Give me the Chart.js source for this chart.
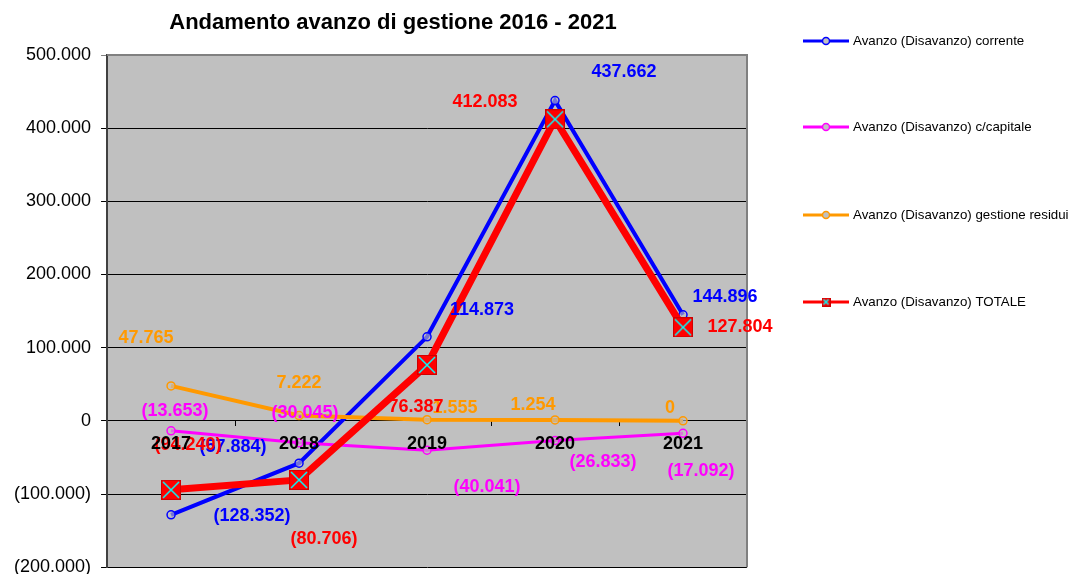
<!DOCTYPE html>
<html>
<head>
<meta charset="utf-8">
<script src="https://cdn.jsdelivr.net/npm/chart.js@4"></script>
<style>
  html, body { margin: 0; padding: 0; background: #fff; overflow: hidden; }
  #wrap { width: 1070px; height: 588px; }
</style>
</head>
<body>
<div id="wrap"><canvas id="chart"></canvas></div>
<script>
// Values (units as shown, "." = thousands)
const years = ["2017", "2018", "2019", "2020", "2021"];
const corrente = [-128352, -57884, 114873, 437662, 144896];
const capitale = [-13653, -30045, -40041, -26833, -17092];
const residui = [47765, 7222, 1555, 1254, 0];
const totale = [-94240, -80706, 76387, 412083, 127804];
const seriesNames = [
  "Avanzo (Disavanzo) corrente",
  "Avanzo (Disavanzo) c/capitale",
  "Avanzo (Disavanzo) gestione residui",
  "Avanzo (Disavanzo) TOTALE"
];
const yMin = -200000, yMax = 500000, yStep = 100000;

const FONT = "Arial, 'Liberation Sans', sans-serif";

// label nudges (pixels) so the value labels sit where Excel put them
const labelShift = [
  [[81, 1], [-66, -16], [55, -27], [69, -29], [42, -18]],
  [[4, -20], [6, -30], [60, 37], [48, 22], [18, 38]],
  [[-25, -48], [0, -33], [28, -12], [-22, -15], [-13, -13]],
  [[17, -45], [25, 59], [-11, 42], [-70, -17], [57, 0]]
];

function fmt(v) {
  const s = Math.abs(Math.round(v)).toString().replace(/\B(?=(\d{3})+(?!\d))/g, ".");
  return v < 0 ? "(" + s + ")" : s;
}

function boxMarker(size) {
  const c = document.createElement("canvas");
  c.width = size; c.height = size;
  const g = c.getContext("2d");
  g.fillStyle = "#ff0000";
  g.fillRect(0, 0, size, size);
  g.strokeStyle = "#d00000";
  g.lineWidth = 1;
  g.strokeRect(0.5, 0.5, size - 1, size - 1);
  g.strokeStyle = "#00ffff";
  g.lineWidth = 1.5;
  g.beginPath();
  g.moveTo(2, 2); g.lineTo(size - 2, size - 2);
  g.moveTo(size - 2, 2); g.lineTo(2, size - 2);
  g.stroke();
  return c;
}

const bigBox = boxMarker(20);
const smallBox = boxMarker(9);

const decor = {
  id: "decor",
  beforeDraw(chart) {
    const { ctx, chartArea: a } = chart;
    ctx.save();
    ctx.fillStyle = "#c0c0c0";
    ctx.fillRect(a.left, a.top, a.right - a.left, a.bottom - a.top);
    ctx.restore();
  },
  beforeDatasetsDraw(chart) {
    const { ctx, chartArea: a } = chart;
    ctx.save();
    ctx.strokeStyle = "#808080";
    ctx.lineWidth = 2;
    ctx.beginPath();
    ctx.moveTo(a.left, a.top);
    ctx.lineTo(a.right, a.top);
    ctx.lineTo(a.right, a.bottom);
    ctx.stroke();
    ctx.restore();
  },
  afterDatasetsDraw(chart) {
    const { ctx, scales } = chart;
    ctx.save();
    ctx.font = "bold 18px " + FONT;
    ctx.textAlign = "center";
    ctx.textBaseline = "middle";
    chart.data.datasets.forEach((ds, i) => {
      ds.data.forEach((v, j) => {
        const x = scales.x.getPixelForValue(j);
        const y = scales.y.getPixelForValue(v);
        const d = labelShift[i][j];
        ctx.fillStyle = ds.borderColor;
        ctx.fillText(fmt(v), x + d[0], y + d[1]);
      });
    });
    ctx.restore();
  },
  afterDraw(chart) {
    const { ctx, chartArea: a } = chart;
    ctx.save();
    // title
    ctx.fillStyle = "#000";
    ctx.font = "bold 22px " + FONT;
    ctx.textAlign = "center";
    ctx.textBaseline = "middle";
    ctx.fillText("Andamento avanzo di gestione 2016 - 2021", 393, 23);
    // legend
    const lx = a.right + 56;
    const rows = [41, 127, 215, 302];
    chart.data.datasets.forEach((ds, i) => {
      const y = rows[i];
      ctx.strokeStyle = ds.borderColor;
      ctx.lineWidth = 3;
      ctx.beginPath();
      ctx.moveTo(lx, y);
      ctx.lineTo(lx + 46, y);
      ctx.stroke();
      if (i === 3) {
        ctx.drawImage(smallBox, lx + 23 - 4.5, y - 4.5);
      } else {
        ctx.lineWidth = 1.5;
        ctx.fillStyle = "#c0c0c0";
        ctx.beginPath();
        ctx.arc(lx + 23, y, 3.5, 0, Math.PI * 2);
        ctx.fill();
        ctx.stroke();
      }
      ctx.fillStyle = "#000";
      ctx.font = "13.3px " + FONT;
      ctx.textAlign = "left";
      ctx.fillText(ds.label, lx + 50, y);
    });
    ctx.restore();
  }
};

const colors = ["#0000ff", "#ff00ff", "#ff9900", "#ff0000"];
const widths = [4, 3, 4, 7];
const values = [corrente, capitale, residui, totale];

new Chart(document.getElementById("chart"), {
  type: "line",
  data: {
    labels: years,
    datasets: values.map((vals, i) => ({
      label: seriesNames[i],
      data: vals,
      borderColor: colors[i],
      backgroundColor: colors[i],
      borderWidth: widths[i],
      tension: 0,
      order: 4 - i,
      pointStyle: i === 3 ? bigBox : "circle",
      pointRadius: i === 3 ? 10 : 4,
      pointBorderWidth: 1.5,
      pointBackgroundColor: i === 3 ? colors[i] : "rgba(192,192,192,0.6)",
      pointBorderColor: colors[i]
    }))
  },
  options: {
    responsive: true,
    maintainAspectRatio: false,
    animation: false,
    events: [],
    layout: { padding: { top: 55, bottom: 0, left: 4, right: 323 } },
    plugins: {
      legend: { display: false },
      title: { display: false },
      tooltip: { enabled: false }
    },
    scales: {
      x: {
        position: { y: 0 },
        offset: true,
        grid: {
          offset: true,
          drawOnChartArea: false,
          drawTicks: true,
          tickLength: 5,
          color: "#000"
        },
        border: { display: true, color: "#000", width: 1 },
        ticks: {
          z: 1,
          color: "#000",
          font: { family: FONT, size: 18, weight: "bold" },
          padding: 7,
          maxRotation: 0
        }
      },
      y: {
        min: yMin,
        max: yMax,
        grid: {
          color: (c) => (c.tick && c.tick.value === yMax ? "#808080" : "#000"),
          lineWidth: 1,
          drawTicks: true,
          tickLength: 6
        },
        border: { display: true, color: "#404040", width: 2 },
        ticks: {
          stepSize: yStep,
          color: "#000",
          padding: 10,
          font: { family: FONT, size: 18 },
          callback: (v) => fmt(v)
        }
      }
    }
  },
  plugins: [decor]
});
</script>
</body>
</html>
